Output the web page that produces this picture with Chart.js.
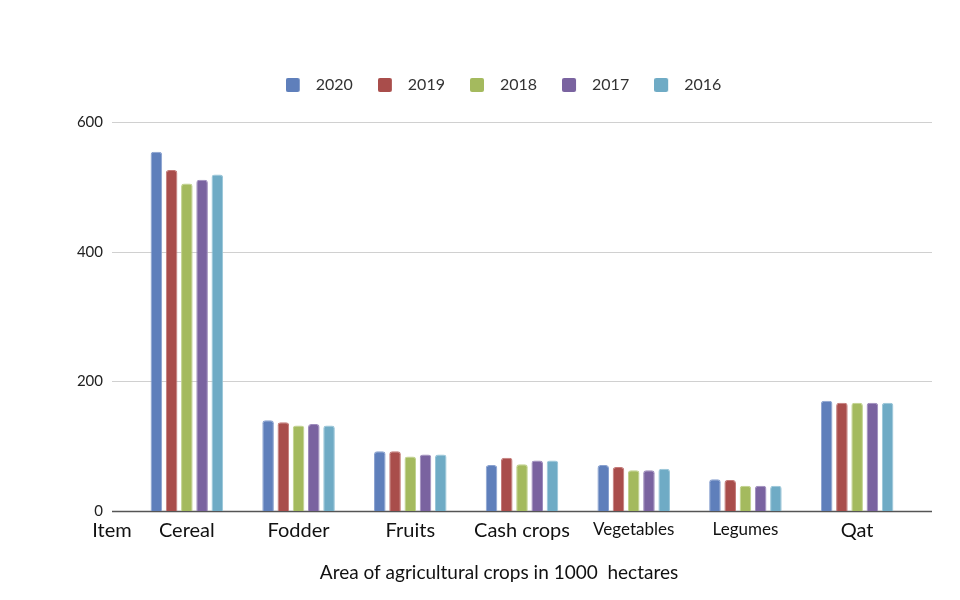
<!DOCTYPE html>
<html>
<head>
<meta charset="utf-8">
<script src="https://cdn.jsdelivr.net/npm/chart.js@4/dist/chart.umd.min.js"></script>
<style>
  html, body { margin: 0; padding: 0; background: #ffffff; }
  #wrap { width: 960px; height: 600px; position: relative; }
</style>
</head>
<body>
<div id="wrap"><canvas id="c" width="960" height="600"></canvas></div>
<script>
// ---- Data ----
const categories = ["Cereal", "Fodder", "Fruits", "Cash crops", "Vegetables", "Legumes", "Qat"];
const seriesNames = ["2020", "2019", "2018", "2017", "2016"];
const values2020 = [554, 140, 92, 71, 71, 49, 170];
const values2019 = [526, 137, 92, 82, 68, 48, 167];
const values2018 = [505, 132, 84, 72, 63, 39, 167];
const values2017 = [511, 134, 87, 78, 63, 39, 167];
const values2016 = [519, 132, 87, 78, 65, 39, 167];
const yTicks = [0, 200, 400, 600];
const axisStartLabel = "Item";
const axisTitle = "Area of agricultural crops in 1000  hectares";

// ---- Styles ----
const FONT = "Lato, 'Open Sans', sans-serif";
const fills = ["#5f7fbb", "#a94d4b", "#a4ba5e", "#7a63a0", "#6fabc5"];
const edges = ["#8aa2d0", "#c47a78", "#c0d28c", "#9e8cbd", "#98c5d8"];
const labelFontSizes = [20, 20, 20, 20, 17, 17, 20];
const GRID_EXTEND = 19;
const LEGEND_SWATCH_SLOT = 22;

const seriesValues = [values2020, values2019, values2018, values2017, values2016];

// legend swatch: 14x14 rounded square on the left of a wider transparent slot
function makeSwatch(color) {
  const cv = document.createElement('canvas');
  cv.width = LEGEND_SWATCH_SLOT; cv.height = 14;
  const c = cv.getContext('2d');
  c.fillStyle = color;
  c.beginPath();
  if (c.roundRect) c.roundRect(0, 0, 14, 14, 2); else c.rect(0, 0, 14, 14);
  c.fill();
  return cv;
}
const swatches = fills.map(makeSwatch);

const extrasPlugin = {
  id: 'extras',
  beforeDatasetsDraw(chart) {
    const {ctx, chartArea} = chart;
    const y = chart.scales.y;
    const x0 = chartArea.left - GRID_EXTEND, x1 = chartArea.right + GRID_EXTEND;
    ctx.save();
    yTicks.forEach(v => {
      const py = Math.round(y.getPixelForValue(v)) + 0.5;
      ctx.beginPath();
      ctx.moveTo(x0, py); ctx.lineTo(x1, py);
      if (v === 0) { ctx.strokeStyle = '#555555'; ctx.lineWidth = 1.5; }
      else { ctx.strokeStyle = '#d0d0d0'; ctx.lineWidth = 1; }
      ctx.stroke();
    });
    // y tick labels
    ctx.fillStyle = '#222222';
    ctx.font = "15px " + FONT;
    ctx.textAlign = 'right';
    ctx.textBaseline = 'middle';
    yTicks.forEach(v => {
      ctx.fillText(String(v), chartArea.left - 28, y.getPixelForValue(v));
    });
    ctx.restore();
  },
  afterDraw(chart) {
    const {ctx, chartArea} = chart;
    ctx.save();
    ctx.fillStyle = '#111111';
    ctx.textAlign = 'center';
    ctx.textBaseline = 'alphabetic';
    ctx.font = "20px " + FONT;
    ctx.fillText(axisStartLabel, chartArea.left - GRID_EXTEND, chartArea.bottom + 26);
    ctx.textBaseline = 'middle';
    ctx.font = "19px " + FONT;
    ctx.fillText(axisTitle, 499, 573);
    ctx.restore();
  }
};

new Chart(document.getElementById('c'), {
  type: 'bar',
  data: {
    labels: categories,
    datasets: seriesNames.map((name, i) => ({
      label: name,
      data: seriesValues[i],
      backgroundColor: fills[i],
      borderColor: edges[i],
      borderWidth: {top: 1, left: 1, right: 1, bottom: 0},
      borderRadius: {topLeft: 3, topRight: 3, bottomLeft: 0, bottomRight: 0},
      borderSkipped: 'bottom',
      categoryPercentage: 0.682,
      barPercentage: 0.76
    }))
  },
  options: {
    responsive: false,
    animation: false,
    devicePixelRatio: 1,
    layout: { padding: { top: 52, left: 94, right: 47, bottom: 0 } },
    plugins: {
      legend: {
        position: 'top',
        weight: 3000,
        labels: {
          usePointStyle: true,
          pointStyleWidth: LEGEND_SWATCH_SLOT,
          boxHeight: 14,
          padding: 25,
          color: '#333333',
          font: { family: FONT, size: 16 },
          generateLabels(chart) {
            const items = Chart.defaults.plugins.legend.labels.generateLabels(chart);
            items.forEach((it, i) => { it.pointStyle = swatches[i]; });
            return items;
          }
        }
      },
      title: {
        display: true, text: ' ', weight: 500,
        font: { size: 10, lineHeight: 1 },
        padding: { top: 0, bottom: 9 }
      },
      tooltip: { enabled: false }
    },
    scales: {
      x: {
        grid: { display: false },
        border: { display: false },
        ticks: {
          color: '#111111',
          padding: 0,
          maxRotation: 0,
          autoSkip: false,
          font: (ctx) => ({ family: FONT, size: labelFontSizes[ctx.index] || 20 })
        },
        afterFit(scale) { scale.height = 89; }
      },
      y: {
        min: 0, max: 600,
        grid: { display: false },
        border: { display: false },
        ticks: { display: false, stepSize: 200 },
        afterFit(scale) { scale.width = 37; }
      }
    }
  },
  plugins: [extrasPlugin]
});
</script>
</body>
</html>
